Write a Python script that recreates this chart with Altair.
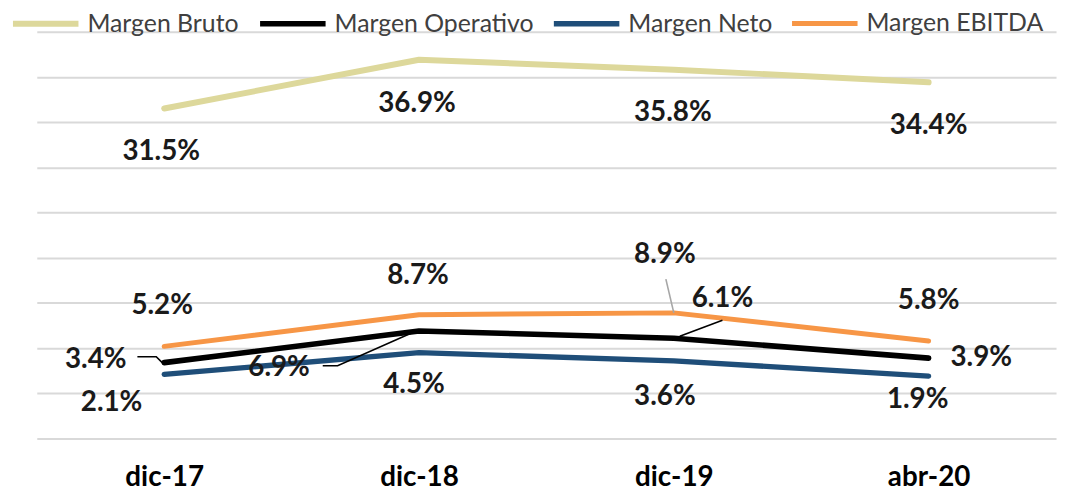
import altair as alt
import pandas as pd

# ---------------- data ----------------
periods = ["dic-17", "dic-18", "dic-19", "abr-20"]
series_names = ["Margen Bruto", "Margen Operativo", "Margen Neto", "Margen EBITDA"]
bruto = [31.5, 36.9, 35.8, 34.4]
operativo = [3.4, 6.9, 6.1, 3.9]
neto = [2.1, 4.5, 3.6, 1.9]
ebitda = [5.2, 8.7, 8.9, 5.8]
label_text = {
    "Margen Bruto": ["31.5%", "36.9%", "35.8%", "34.4%"],
    "Margen Operativo": ["3.4%", "6.9%", "6.1%", "3.9%"],
    "Margen Neto": ["2.1%", "4.5%", "3.6%", "1.9%"],
    "Margen EBITDA": ["5.2%", "8.7%", "8.9%", "5.8%"],
}

# ---------------- style / layout ----------------
colors = ["#DDD89B", "#000000", "#1F4E79", "#F79646"]
widths = [6, 5, 5, 6]
W, H = 1027, 410
X_DOM = [-0.5, 3.5]
Y_DOM = [-5, 40]
PX_X = W / (X_DOM[1] - X_DOM[0])
PX_Y = H / (Y_DOM[1] - Y_DOM[0])

# label offsets in pixels (dx, dy) from each point, Excel-style manual placement
label_offsets = {
    "Margen Bruto": [(-3, 44), (-2, 45), (-1, 44), (0, 44)],
    "Margen Operativo": [(-69, -3), (-141, 37), (49, -39), (53, 0)],
    "Margen Neto": [(-53, 29), (-5, 33), (-9, 37), (-11, 24)],
    "Margen EBITDA": [(-2, -41), (-1, -39), (-9, -58), (0, -40)],
}
# leader lines: (series, point index, colour, list of pixel offsets)
leaders = [
    ("Margen Operativo", 0, "#000000", [(-27, -6), (-8, -6), (-2, 0)]),
    ("Margen Operativo", 1, "#000000", [(-97, 35), (-82, 35), (-3, 0)]),
    ("Margen Operativo", 2, "#000000", [(49, -18), (6, -2)]),
    ("Margen EBITDA", 2, "#A6A6A6", [(-8, -34), (0, 0)]),
]

values = {
    "Margen Bruto": bruto,
    "Margen Operativo": operativo,
    "Margen Neto": neto,
    "Margen EBITDA": ebitda,
}

rows, lab_rows, lead_rows = [], [], []
for s in series_names:
    for i, p in enumerate(periods):
        v = values[s][i]
        rows.append({"idx": i, "periodo": p, "serie": s, "valor": v})
        dx, dy = label_offsets[s][i]
        lab_rows.append({"lx": i + dx / PX_X, "ly": v - dy / PX_Y, "txt": label_text[s][i]})
for k, (s, i, col, pts) in enumerate(leaders):
    v = values[s][i]
    for j, (dx, dy) in enumerate(pts):
        lead_rows.append({"lid": k, "o": j, "lx": i + dx / PX_X, "ly": v - dy / PX_Y, "col": col})

df = pd.DataFrame(rows)
df_lab = pd.DataFrame(lab_rows)
df_lead = pd.DataFrame(lead_rows)

label_expr = "[" + ",".join(f"'{p}'" for p in periods) + "][datum.value]"

x_enc = alt.X(
    "idx:Q",
    scale=alt.Scale(domain=X_DOM, nice=False, zero=False),
    axis=alt.Axis(
        values=list(range(len(periods))),
        labelExpr=label_expr,
        grid=False, ticks=False, tickSize=0, domain=False,
        labelFont="Lato", labelFontSize=28, labelFontWeight="bold",
        labelColor="#000000", labelPadding=25, title=None,
    ),
)
y_enc = alt.Y(
    "valor:Q",
    scale=alt.Scale(domain=Y_DOM, nice=False, zero=False),
    axis=alt.Axis(
        values=list(range(-5, 45, 5)),
        labels=False, ticks=False, domain=False, grid=True,
        gridColor="#D9D9D9", gridWidth=2, title=None,
    ),
)

lines = alt.Chart(df).mark_line(strokeCap="round", strokeJoin="round").encode(
    x=x_enc,
    y=y_enc,
    color=alt.Color(
        "serie:N",
        scale=alt.Scale(domain=series_names, range=colors),
        sort=series_names,
        legend=alt.Legend(
            title=None, orient="none", legendX=-27, legendY=-44,
            direction="horizontal", columns=4,
            symbolType="stroke", symbolSize=4356, symbolStrokeWidth=6,
            labelFont="Lato", labelFontSize=25, labelColor="#404040",
            labelOffset=6, columnPadding=9, labelLimit=400, padding=0,
        ),
    ),
    strokeWidth=alt.StrokeWidth(
        "serie:N", scale=alt.Scale(domain=series_names, range=widths), legend=None
    ),
    detail="serie:N",
)

leader_lines = alt.Chart(df_lead).mark_line(strokeWidth=1.6).encode(
    x=alt.X("lx:Q"),
    y=alt.Y("ly:Q"),
    stroke=alt.Stroke("col:N", scale=None),
    detail="lid:N",
    order="o:Q",
)

labels = alt.Chart(df_lab).mark_text(
    font="Lato", fontSize=28, fontWeight="bold", color="#1A1A1A",
    align="center", baseline="middle",
).encode(
    x=alt.X("lx:Q"),
    y=alt.Y("ly:Q"),
    text="txt:N",
)

chart = (
    alt.layer(lines, leader_lines, labels)
    .properties(
        width=W, height=H,
        autosize=alt.AutoSizeParams(type="none"),
        padding={"left": 29, "top": 22, "right": 4, "bottom": 56},
        background="#FFFFFF",
    )
    .configure_view(stroke=None)
)

chart.save("out.html", embed_options={"renderer": "svg", "actions": False})
